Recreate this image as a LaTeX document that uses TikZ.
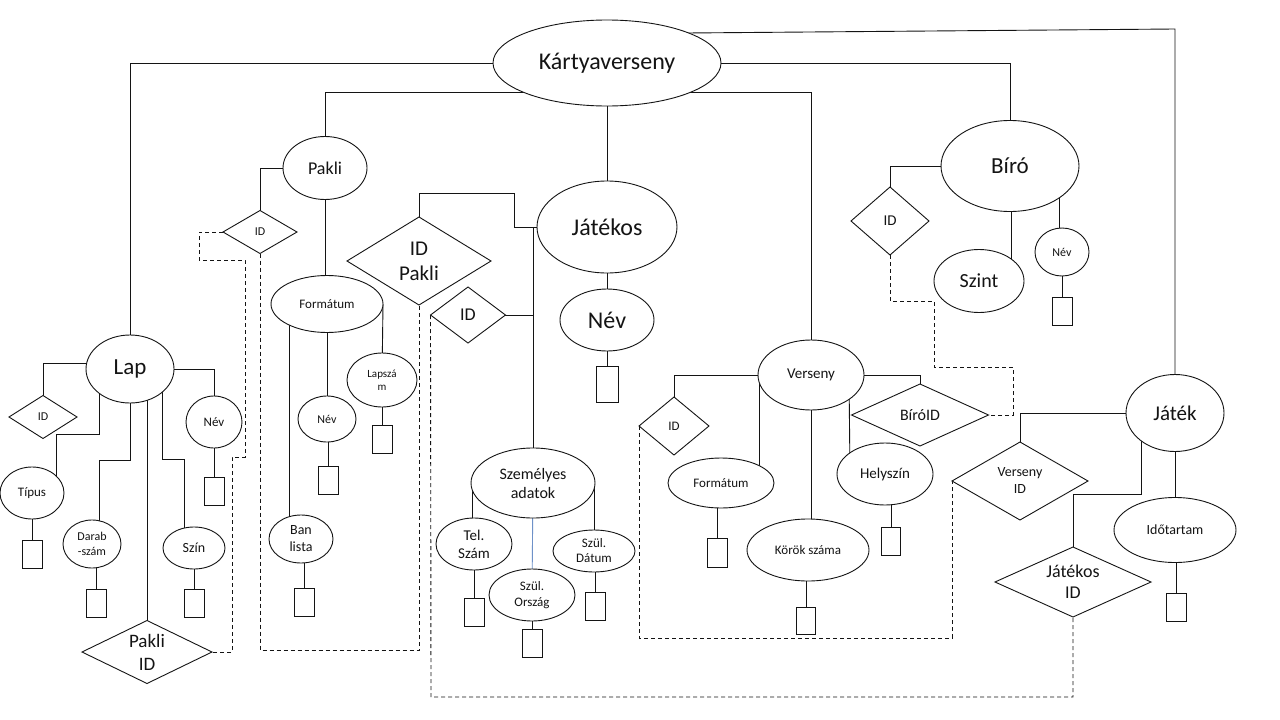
\documentclass[tikz,border=0pt]{standalone}
\usepackage{fontspec}
\setmainfont{Carlito}
\usetikzlibrary{shapes.geometric,calc}
\pgfdeclarelayer{bg}
\pgfdeclarelayer{lines}
\pgfsetlayers{bg,lines,main}
\newcommand\tsz[2]{\fontsize{#1}{#2}\selectfont}
\definecolor{inkc}{RGB}{20,20,20}
\definecolor{bluec}{RGB}{110,145,200}
\tikzset{
 ent/.style={ellipse, draw=inkc, fill=white, inner sep=0pt, outer sep=0pt, align=center, line width=0.9pt, text=inkc},
 rel/.style={diamond, draw=inkc, fill=white, inner sep=0pt, outer sep=0pt, align=center, line width=0.9pt, text=inkc},
 valbox/.style={draw=inkc, fill=white, minimum width=20pt, minimum height=28pt, inner sep=0pt, outer sep=0pt, anchor=north, line width=0.9pt},
 conn/.style={draw=inkc, line width=0.9pt},
 fk/.style={draw=inkc, line width=0.9pt, dash pattern=on 4pt off 3pt},
}
\begin{document}
\begin{tikzpicture}[x=1pt, y=-1pt]
\useasboundingbox (0,0) rectangle (1280,720);
\begin{pgfonlayer}{bg}
\fill[white] (0,0) rectangle (1280,720);
\end{pgfonlayer}

% ---- nodes ----
\node[ent, minimum width=228pt, minimum height=86pt, font=\tsz{24}{28}] (K) at (607,63) {Kártyaverseny};

\node[ent, minimum width=88pt, minimum height=68pt, font=\tsz{23}{27}] (L) at (130,369) {Lap};
\node[rel, minimum width=68pt, minimum height=43pt, aspect=1.6, font=\tsz{12}{14}] (LID) at (43,417) {ID};
\node[ent, minimum width=64pt, minimum height=52pt, font=\tsz{13}{15}] (T) at (32,493) {Típus};
\node[ent, minimum width=58pt, minimum height=48pt, font=\tsz{12}{15}] (D) at (92,544) {Darab\\-szám};
\node[rel, minimum width=130pt, minimum height=63pt, aspect=2, font=\tsz{19}{23}] (PI) at (147,652) {Pakli\\ID};
\node[ent, minimum width=62pt, minimum height=42pt, font=\tsz{14}{16}] (S) at (194,548) {Szín};
\node[ent, minimum width=56pt, minimum height=52pt, font=\tsz{13}{15}] (LN) at (214,422) {Név};

\node[ent, minimum width=84pt, minimum height=63pt, font=\tsz{18}{21}] (P) at (325,168) {Pakli};
\node[rel, minimum width=74pt, minimum height=43pt, aspect=1.7, font=\tsz{12}{14}] (PID) at (260,232) {ID};
\node[ent, minimum width=112pt, minimum height=57pt, font=\tsz{13}{15}] (F1) at (327,304) {Formátum};
\node[ent, minimum width=64pt, minimum height=48pt, font=\tsz{14}{17}] (BL) at (301,539) {Ban\\lista};
\node[ent, minimum width=58pt, minimum height=46pt, font=\tsz{12}{14}] (NP) at (327,419) {Név};
\node[ent, minimum width=70pt, minimum height=54pt, font=\tsz{11}{13}] (LS) at (382,380) {Lapszá\\m};

\node[rel, minimum width=144pt, minimum height=88pt, aspect=1.6, font=\tsz{21}{25}] (IDP) at (419,261) {ID\\Pakli};
\node[ent, minimum width=140pt, minimum height=92pt, font=\tsz{24}{28}] (Jt) at (607,227) {Játékos};
\node[rel, minimum width=75pt, minimum height=56pt, aspect=1.3, font=\tsz{18}{21}] (JID) at (468,315) {ID};
\node[ent, minimum width=94pt, minimum height=62pt, font=\tsz{24}{28}] (JN) at (607,320) {Név};

\node[ent, minimum width=124pt, minimum height=70pt, font=\tsz{16}{19}] (SA) at (533,483) {Személyes\\adatok};
\node[ent, minimum width=76pt, minimum height=52pt, font=\tsz{15}{18}] (TS) at (474,544) {Tel.\\Szám};
\node[ent, minimum width=86pt, minimum height=52pt, font=\tsz{13}{16}] (SO) at (532,595) {Szül.\\Ország};
\node[ent, minimum width=82pt, minimum height=42pt, font=\tsz{13}{15}] (SD) at (594,551) {Szül.\\Dátum};

\node[ent, minimum width=106pt, minimum height=70pt, font=\tsz{15}{18}] (V) at (811,375) {Verseny};
\node[rel, minimum width=70pt, minimum height=58pt, aspect=1.2, font=\tsz{13}{15}] (VID) at (674,426) {ID};
\node[ent, minimum width=106pt, minimum height=50pt, font=\tsz{13}{15}] (VF) at (721,483) {Formátum};
\node[ent, minimum width=122pt, minimum height=62pt, font=\tsz{13}{15}] (VK) at (808,550) {Körök száma};
\node[ent, minimum width=96pt, minimum height=62pt, font=\tsz{15}{18}] (VH) at (885,474) {Helyszín};
\node[rel, minimum width=137pt, minimum height=62pt, aspect=2.2, font=\tsz{16}{19}] (VB) at (920,415) {BíróID};

\node[ent, minimum width=138pt, minimum height=91pt, font=\tsz{23}{27}] (B) at (1010,166) {Bíró};
\node[rel, minimum width=78pt, minimum height=68pt, aspect=1.15, font=\tsz{15}{18}] (BID) at (890,221) {ID};
\node[ent, minimum width=90pt, minimum height=63pt, font=\tsz{20}{24}] (BS) at (979,281) {Szint};
\node[ent, minimum width=54pt, minimum height=48pt, font=\tsz{12}{14}] (BN) at (1062,252) {Név};

\node[ent, minimum width=98pt, minimum height=77pt, font=\tsz{21}{25}] (J) at (1175,413) {Játék};
\node[rel, minimum width=136pt, minimum height=78pt, aspect=1.74, font=\tsz{14}{17}] (VI) at (1020,481) {Verseny\\ID};
\node[rel, minimum width=156pt, minimum height=70pt, aspect=2.2, font=\tsz{18}{21}] (JIDd) at (1073,582) {Játékos\\ID};
\node[ent, minimum width=122pt, minimum height=65pt, font=\tsz{14}{17}] (JD) at (1175,530) {Időtartam};

% value boxes
\node[valbox] (rT) at (32,540) {};
\node[valbox] (rD) at (96,589) {};
\node[valbox] (rS) at (194,589) {};
\node[valbox] (rLN) at (214,477) {};
\node[valbox] (rBL) at (304,588) {};
\node[valbox] (rNP) at (328,466) {};
\node[valbox] (rLS) at (382,425) {};
\node[valbox, minimum width=22pt, minimum height=36pt] (rJN) at (607,366) {};
\node[valbox] (rTS) at (474,598) {};
\node[valbox] (rSO) at (532,629) {};
\node[valbox] (rSD) at (595,592) {};
\node[valbox, minimum height=29pt] (rVF) at (717,538) {};
\node[valbox, minimum width=19pt, minimum height=27pt] (rVK) at (806,607) {};
\node[valbox, minimum width=19pt] (rVH) at (891,527) {};
\node[valbox] (rBN) at (1062,297) {};
\node[valbox] (rJD) at (1176,593) {};

% ---- connectors (under the nodes) ----
\begin{pgfonlayer}{lines}
\draw[conn] (K.center) -| (L.center);
\draw[conn] ($(K)+(0,29)$) -| (P.center);
\draw[conn] ($(K)+(0,29)$) -| (V.center);
\draw[conn] (K.center) -- (Jt.center);
\draw[conn] (K.center) -| (B.center);
\draw[conn] ($(K)+(80,-30)$) -- (1175,29) -- (J.center);

\draw[conn] ($(L)+(0,-6)$) -| (LID.center);
\draw[conn] ($(L)+(-31,0)$) |- (56,434) -- ($(T)+(24,0)$);
\draw[conn] (L.center) |- (99,460) -- ($(D)+(7,0)$);
\draw[conn] ($(L)+(17,0)$) -- (PI.center);
\draw[conn] ($(L)+(32,0)$) |- (184,459) -- ($(S)+(-10,0)$);
\draw[conn] (L.center) -| (LN.center);

\draw[conn] (P.center) -| (PID.center);
\draw[conn] (P.center) -- (P.center |- F1.center);
\draw[conn] ($(F1)+(-38,0)$) -- ($(BL)+(-12,0)$);
\draw[conn] (F1.center) -- (NP.center);
\draw[conn] ($(F1)+(56,0)$) -- (LS.center);

\draw[conn] (IDP.center) |- (514,193) |- (Jt.center);
\draw[conn] (533,227) -- (SA.center);
\draw[conn] (JID.center) -- (533,315);
\draw[conn] (Jt.center) -- (JN.center);

\draw[conn] (472,483) -- ($(TS)+(-2,0)$);
\draw[line width=0.9pt, draw=bluec] (SA.center) -- (SO.center);
\draw[conn] (594,483) -- (SD.center);

\draw[conn] (V.center) -| (VID.center);
\draw[conn] ($(V)+(-52,0)$) -- ($(VF)+(38,0)$);
\draw[conn] (V.center) -- (V.center |- VK.center);
\draw[conn] ($(V)+(38,0)$) -- ($(VH)+(-35,0)$);
\draw[conn] (V.center) -| (VB.center);

\draw[conn] (B.center) -| (BID.center);
\draw[conn] ($(B)+(1,0)$) -- ($(BS)+(32,0)$);
\draw[conn] ($(B)+(49,0)$) -- ($(BN)+(-3,0)$);

\draw[conn] (J.center) -| (VI.center);
\draw[conn] ($(J)+(-34,0)$) |- (1073,494) -- (JIDd.center);
\draw[conn] (J.center) -- (JD.center);

% to value boxes
\foreach \e/\r in {T/rT, D/rD, S/rS, LN/rLN, BL/rBL, NP/rNP, LS/rLS, JN/rJN, TS/rTS, SO/rSO, SD/rSD, VF/rVF, VK/rVK, VH/rVH, BN/rBN, JD/rJD}
  \draw[conn] (\r.north |- \e.center) -- (\r.north);

% dashed foreign-key links
\draw[fk] (PID.west) -- (199,232) -- (199,260) -- (245,260) -- (245,457) -- (232,457) -- (232,652) -- (PI.east);
\draw[fk] (PID.south) -- (260,650) -- (419,650) -- (IDP.south);
\draw[fk] (JID.west) -- (431,697) -- (1073,697) -- (JIDd.south);
\draw[fk] (VID.west) -- (639,638) -- (952,638) -- (VI.west);
\draw[fk] (BID.south) -- (890,301) -- (934,301) -- (934,367) -- (1013,367) -- (1013,415) -- (VB.east);
\end{pgfonlayer}
\end{tikzpicture}
\end{document}
